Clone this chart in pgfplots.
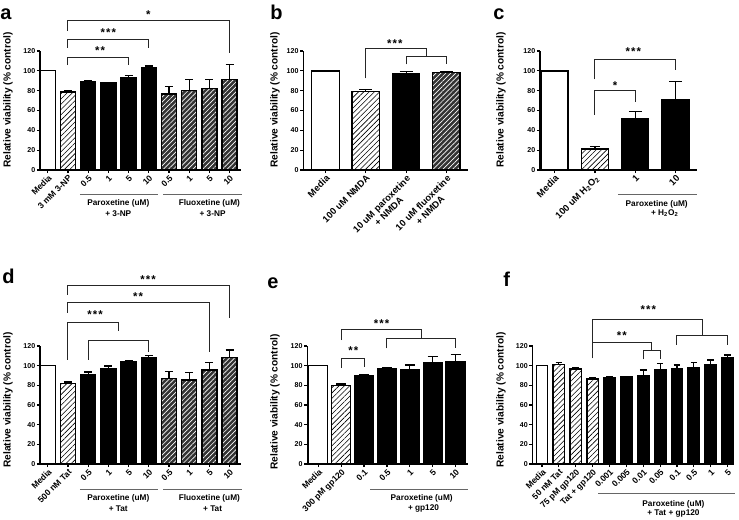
\documentclass[border=0pt]{standalone}
\usepackage{fontspec}
\setmainfont{Liberation Sans}
\usepackage{pgfplots}
\pgfplotsset{compat=1.18}
\usetikzlibrary{patterns,patterns.meta}

\newcommand\tf{\bfseries\fontsize{5.3}{5.6}\selectfont}
\newcommand\xf{\bfseries\fontsize{6.4}{6.8}\selectfont}
\newcommand\xbf{\bfseries\fontsize{7}{7.6}\selectfont}
\newcommand\gf{\bfseries\fontsize{6.2}{6.8}\selectfont}
\newcommand\lf{\bfseries\fontsize{7.6}{8}\selectfont}
\newcommand\pf{\bfseries\fontsize{15}{15}\selectfont}
\newcommand\stf{\bfseries\fontsize{8.5}{8.5}\selectfont}

\pgfplotsset{
  prism/.style={
    scale only axis, anchor=south west, clip=false,
    axis x line*=bottom, axis y line*=left,
    axis line style={line width=1.1pt,-},
    ymin=0, ymax=120, ytick={0,20,...,120},
    tick align=outside, major tick length=2.4pt,
    tick style={line width=0.9pt,black},
    /pgf/number format/assume math mode=true,
    yticklabel style={font=\tf,inner sep=1pt},
    xticklabel style={font=\xf,rotate=45,anchor=north east,inner sep=0.5pt},
  },
  wbar/.style={ybar,bar width=#1,draw=black,line width=1pt,fill=white},
  hbar/.style={ybar,bar width=#1,draw=black,line width=1pt,pattern={Lines[angle=45,distance=2.8pt,line width=0.45pt]}},
  kbar/.style={ybar,bar width=#1,draw=black,line width=1pt,fill=black},
  dbar/.style={ybar,bar width=#1,draw=black,line width=1pt,fill=black!80,postaction={pattern={Lines[angle=45,distance=2.6pt,line width=0.5pt]},pattern color=white}},
  eb/.style={error bars/y dir=plus, error bars/y explicit,
    error bars/error bar style={line width=0.9pt,black,solid},
    error bars/error mark options={rotate=90,line width=0.9pt,black,mark size=#1}},
}
\tikzset{
  br/.style={line width=0.75pt, black!85},
  gl/.style={line width=0.75pt, black!60},
  st/.style={font=\stf, inner sep=0pt},
  gt/.style={font=\gf, inner sep=0pt},
}
\newcommand\three{*\kern0.8pt*\kern0.8pt*}
\newcommand\two{*\kern0.8pt*}

\begin{document}
\begin{tikzpicture}
\useasboundingbox (0,0) rectangle (554.25pt,389.25pt);

% ---------------- a ----------------
\begin{axis}[prism, at={(30pt,261.75pt)}, width=150.5pt, height=89.25pt,
  xmin=-0.386, xmax=9.55, xtick={0,...,9},
  xticklabels={Media,3 mM 3-NP,0.5,1,5,10,0.5,1,5,10}]
\addplot[wbar=0.74] coordinates {(0,100)};
\addplot[hbar=0.74, eb=3pt] coordinates {(1,78.8) +- (0,1)};
\addplot[kbar=0.74, eb=3pt] coordinates {(2,88.9) +- (0,1.7) (3,87.9) +- (0,0.7) (4,93.6) +- (0,1.4) (5,102.8) +- (0,2)};
\addplot[dbar=0.74, eb=3pt] coordinates {(6,76.7) +- (0,7.1) (7,80.5) +- (0,10.8) (8,82.5) +- (0,8.8) (9,91.3) +- (0,15.2)};
\draw[br] (axis cs:1,105.8) |- (axis cs:4,113.3) -- (axis cs:4,105.8);
\node[st] at (axis cs:2.59,120) {\two};
\draw[br] (axis cs:1,123.4) |- (axis cs:5,131.8) -- (axis cs:5,123.4);
\node[st] at (axis cs:2.995,138.6) {\three};
\draw[br] (axis cs:1,140.3) |- (axis cs:9,150.4) -- (axis cs:9,117.6);
\node[st] at (axis cs:4.98,157) {*};
\draw[gl] (axis cs:1.594,-24.5) -- (axis cs:5.44,-24.5);
\draw[gl] (axis cs:5.72,-24.5) -- (axis cs:9.6,-24.5);
\node[gt] at (axis cs:3.49,-33.6) {Paroxetine (uM)};
\node[gt] at (axis cs:3.49,-43.7) {+ 3-NP};
\node[gt] at (axis cs:8.0,-33.6) {Fluoxetine (uM)};
\node[gt] at (axis cs:8.16,-43.7) {+ 3-NP};
\end{axis}

% ---------------- b ----------------
\begin{axis}[prism, at={(227.5pt,261.75pt)}, width=123.5pt, height=89.25pt,
  xmin=-0.55, xmax=3.536, xtick={0,...,3},
  xticklabel style={align=center,font=\xbf},
  xticklabels={Media,100 uM NMDA,{10 uM paroxetine\\+ NMDA},{10 uM fluoxetine\\+ NMDA}}]
\addplot[wbar=0.68] coordinates {(0,100)};
\addplot[hbar=0.68, eb=4.9pt] coordinates {(1,79) +- (0,1.8)};
\addplot[kbar=0.68, eb=4.9pt] coordinates {(2,97.5) +- (0,1.7)};
\addplot[dbar=0.68, eb=4.9pt] coordinates {(3,98.2) +- (0,1.4)};
\draw[br] (axis cs:1,92.5) |- (axis cs:2.5,122.7) -- (axis cs:2.5,114);
\draw[br] (axis cs:2,106.6) |- (axis cs:3,114) -- (axis cs:3,106.6);
\node[st] at (axis cs:1.72,127.4) {\three};
\end{axis}

% ---------------- c ----------------
\begin{axis}[prism, at={(405pt,261.75pt)}, width=117.5pt, height=89.25pt,
  xmin=-0.36, xmax=3.52, xtick={0,...,3},
  xticklabel style={font=\xbf},
  xticklabels={Media,100 uM H\textsubscript{2}O\textsubscript{2},1,10}]
\addplot[wbar=0.67] coordinates {(0,100)};
\addplot[hbar=0.67, eb=3.75pt] coordinates {(1,21.3) +- (0,2.7)};
\addplot[kbar=0.67, eb=4.9pt] coordinates {(2,51.3) +- (0,7.7) (3,71.3) +- (0,17.7)};
\draw[br] (axis cs:1,55.7) |- (axis cs:2,80) -- (axis cs:2,69);
\node[st] at (axis cs:1.5,84.7) {*};
\draw[br] (axis cs:1,91.3) |- (axis cs:3,111.3) -- (axis cs:3,101.3);
\node[st] at (axis cs:1.95,119) {\three};
\draw[gl] (axis cs:1.57,-25.2) -- (axis cs:3.52,-25.2);
\node[gt] at (axis cs:2.53,-34.3) {Paroxetine (uM)};
\node[gt] at (axis cs:2.73,-43.4) {+ H\textsubscript{2}O\textsubscript{2}};
\end{axis}

% ---------------- d ----------------
\begin{axis}[prism, at={(30pt,41.25pt)}, width=150.5pt, height=88.5pt,
  xmin=-0.386, xmax=9.55, xtick={0,...,9},
  xticklabels={Media,500 nM Tat,0.5,1,5,10,0.5,1,5,10}]
\addplot[wbar=0.74] coordinates {(0,100)};
\addplot[hbar=0.74, eb=3pt] coordinates {(1,82) +- (0,1.4)};
\addplot[kbar=0.74, eb=3pt] coordinates {(2,91.2) +- (0,2.4) (3,97.3) +- (0,2.4) (4,104) +- (0,1.4) (5,108.1) +- (0,2.4)};
\addplot[dbar=0.74, eb=3pt] coordinates {(6,86.8) +- (0,7.1) (7,85.4) +- (0,7.5) (8,95.6) +- (0,7.4) (9,108) +- (0,8)};
\draw[br] (axis cs:1,172) |- (axis cs:9,182) -- (axis cs:9,148.2);
\node[st] at (axis cs:4.97,187.9) {\three};
\draw[br] (axis cs:1,153.9) |- (axis cs:8,164) -- (axis cs:8,114.2);
\node[st] at (axis cs:4.47,170.2) {\two};
\draw[br] (axis cs:1,105.8) |- (axis cs:3.5,144.1) -- (axis cs:3.5,135.3);
\node[st] at (axis cs:2.34,151.6) {\three};
\draw[br] (axis cs:2,105.8) |- (axis cs:5,126.1) -- (axis cs:5,114.2);
\draw[gl] (axis cs:1.594,-26.4) -- (axis cs:5.44,-26.4);
\draw[gl] (axis cs:5.72,-26.4) -- (axis cs:9.6,-26.4);
\node[gt] at (axis cs:3.49,-35.1) {Paroxetine (uM)};
\node[gt] at (axis cs:3.49,-45.3) {+ Tat};
\node[gt] at (axis cs:8.0,-35.1) {Fluoxetine (uM)};
\node[gt] at (axis cs:8.16,-45.3) {+ Tat};
\end{axis}

% ---------------- e ----------------
\begin{axis}[prism, at={(230.5pt,41.25pt)}, width=120.75pt, height=88.5pt,
  xmin=-0.48, xmax=6.56, xtick={0,...,6},
  xticklabels={Media,300 pM gp120,0.1,0.5,1,5,10}]
\addplot[wbar=0.83] coordinates {(0,100)};
\addplot[hbar=0.83, eb=3.75pt] coordinates {(1,80) +- (0,1.4)};
\addplot[kbar=0.83, eb=3.75pt] coordinates {(2,90.2) +- (0,0.8) (3,97.3) +- (0,0.8) (4,96.3) +- (0,4.4) (5,103) +- (0,6.2) (6,104) +- (0,7.5)};
\draw[br] (axis cs:1,97.4) |- (axis cs:2,107.5) -- (axis cs:2,99);
\node[st] at (axis cs:1.53,115) {\two};
\draw[br] (axis cs:1,126.1) |- (axis cs:4.5,136.3) -- (axis cs:4.5,127.2);
\draw[br] (axis cs:3,117.7) |- (axis cs:6,127.2) -- (axis cs:6,117.7);
\node[st] at (axis cs:2.77,143.1) {\three};
\draw[gl] (axis cs:2.26,-26.4) -- (axis cs:6.56,-26.4);
\node[gt] at (axis cs:4.52,-35.1) {Paroxetine (uM)};
\node[gt] at (axis cs:4.6,-45.3) {+ gp120};
\end{axis}

% ---------------- f ----------------
\begin{axis}[prism, at={(399.4pt,41.25pt)}, width=150.6pt, height=88.5pt,
  xmin=-0.56, xmax=11.34, xtick={0,...,11},
  xticklabels={Media,50 nM Tat,75 pM gp120,Tat + gp120,0.001,0.005,0.01,0.05,0.1,0.5,1,5}]
\addplot[wbar=0.68] coordinates {(0,100)};
\addplot[hbar=0.68, eb=2.5pt] coordinates {(1,101.4) +- (0,1.6) (2,96.6) +- (0,1.7) (3,86.4) +- (0,1.4)};
\addplot[kbar=0.68, eb=2.5pt] coordinates {(4,87.8) +- (0,0.6) (5,88.5) +- (0,0.4) (6,89.5) +- (0,6.1) (7,96.3) +- (0,6.1) (8,97) +- (0,3.7) (9,97.9) +- (0,5.1) (10,101.4) +- (0,4.4) (11,108.1) +- (0,2.7)};
\draw[br] (axis cs:3,123.4) |- (axis cs:9.5,147.2) -- (axis cs:9.5,130.5);
\draw[br] (axis cs:8,121.1) |- (axis cs:11,130.5) -- (axis cs:11,121.1);
\node[st] at (axis cs:6.30,156.7) {\three};
\draw[br] (axis cs:3,107.5) |- (axis cs:6.5,123.4) -- (axis cs:6.5,115);
\draw[br] (axis cs:6,106.5) |- (axis cs:7,115) -- (axis cs:7,106.5);
\node[st] at (axis cs:4.73,130.2) {\two};
\draw[gl] (axis cs:3.34,-29.8) -- (axis cs:11.45,-29.8);
\node[gt] at (axis cs:7.79,-40.7) {Paroxetine (uM)};
\node[gt] at (axis cs:7.79,-50.8) {+ Tat + gp120};
\end{axis}

% y labels
\foreach \x/\y in {6/314.25, 206.25/314.25, 375.75/314.25, 6/89.25, 206.25/87.75, 375.75/89.25}
  \node[rotate=90, font=\lf, inner sep=0pt] at (\x pt,\y pt) {Relative viability (\% control)};
% panel letters
\node[font=\pf, anchor=base west, inner sep=0pt] at (0pt,374.25pt) {a};
\node[font=\pf, anchor=base west, inner sep=0pt] at (202.5pt,374.25pt) {b};
\node[font=\pf, anchor=base west, inner sep=0pt] at (369.75pt,374.25pt) {c};
\node[font=\pf, anchor=base west, inner sep=0pt] at (1.5pt,177pt) {d};
\node[font=\pf, anchor=base west, inner sep=0pt] at (200.25pt,173.25pt) {e};
\node[font=\pf, anchor=base west, inner sep=0pt] at (377.25pt,174.75pt) {f};
\end{tikzpicture}
\end{document}
